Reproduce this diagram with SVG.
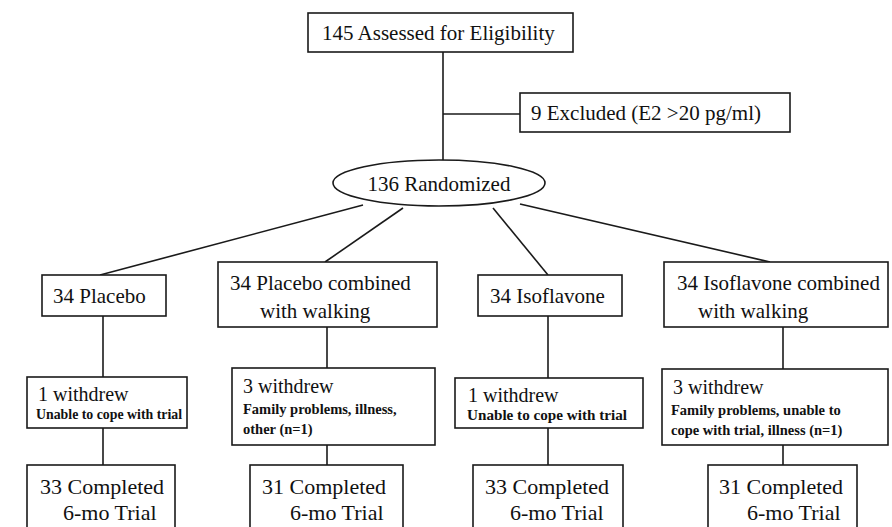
<svg xmlns="http://www.w3.org/2000/svg" width="892" height="527" viewBox="0 0 892 527">
<style>
.box{fill:#fff;stroke:#1a1a1a;stroke-width:1.6}
.ln{stroke:#1a1a1a;stroke-width:1.6;fill:none}
.t{font-family:"Liberation Serif","Times New Roman",serif;font-size:21px;fill:#111}
.w{font-family:"Liberation Serif","Times New Roman",serif;font-size:20px;fill:#111}
.c{font-family:"Liberation Serif","Times New Roman",serif;font-size:22px;fill:#111}
.s{font-family:"Liberation Serif","Times New Roman",serif;font-size:14.5px;font-weight:bold;fill:#111}
</style>
<rect width="892" height="527" fill="#fff"/>
<g id="connectors">
<line class="ln" x1="443" y1="52" x2="443" y2="161"/>
<line class="ln" x1="443" y1="114" x2="520" y2="114"/>
<line class="ln" x1="363" y1="205" x2="100" y2="275"/>
<line class="ln" x1="403" y1="208" x2="325" y2="262"/>
<line class="ln" x1="493" y1="208" x2="548" y2="275"/>
<line class="ln" x1="520" y1="204" x2="770" y2="262"/>
<line class="ln" x1="103" y1="316" x2="103" y2="377"/>
<line class="ln" x1="327" y1="327" x2="327" y2="368"/>
<line class="ln" x1="548" y1="316" x2="548" y2="378"/>
<line class="ln" x1="783" y1="327" x2="783" y2="369"/>
<line class="ln" x1="103" y1="428" x2="103" y2="465"/>
<line class="ln" x1="327" y1="445" x2="327" y2="465"/>
<line class="ln" x1="548" y1="428" x2="548" y2="465"/>
<line class="ln" x1="783" y1="445" x2="783" y2="465"/>
</g>
<g id="assessed">
<rect class="box" x="308" y="13" width="265" height="39"/>
<text class="t" x="322" y="40">145 Assessed for Eligibility</text>
</g>
<g id="excluded">
<rect class="box" x="520" y="93" width="270" height="39"/>
<text class="t" x="531" y="120">9 Excluded (E2 &gt;20 pg/ml)</text>
</g>
<g id="randomized">
<ellipse class="box" cx="439" cy="183" rx="106" ry="23"/>
<text class="t" x="439" y="191" text-anchor="middle">136 Randomized</text>
</g>
<g id="placebo">
<rect class="box" x="42" y="275" width="124" height="41"/>
<text class="t" x="53" y="303">34 Placebo</text>
</g>
<g id="placebo-walking">
<rect class="box" x="218" y="262" width="219" height="65"/>
<text class="t" x="230" y="290">34 Placebo combined</text>
<text class="t" x="260" y="318">with walking</text>
</g>
<g id="isoflavone">
<rect class="box" x="478" y="275" width="144" height="41"/>
<text class="t" x="490" y="303">34 Isoflavone</text>
</g>
<g id="isoflavone-walking">
<rect class="box" x="664" y="262" width="224" height="65"/>
<text class="t" x="677" y="290">34 Isoflavone combined</text>
<text class="t" x="698" y="318">with walking</text>
</g>
<g id="withdrew1">
<rect class="box" x="27" y="377" width="160" height="51"/>
<text class="w" x="38" y="401">1 withdrew</text>
<text class="s" x="36" y="419" textLength="146" lengthAdjust="spacingAndGlyphs">Unable to cope with trial</text>
</g>
<g id="withdrew2">
<rect class="box" x="232" y="368" width="203" height="77"/>
<text class="w" x="243" y="393">3 withdrew</text>
<text class="s" x="243" y="414">Family problems, illness,</text>
<text class="s" x="243" y="434">other (n=1)</text>
</g>
<g id="withdrew3">
<rect class="box" x="455" y="378" width="188" height="50"/>
<text class="w" x="468" y="402">1 withdrew</text>
<text class="s" x="467" y="420" textLength="160" lengthAdjust="spacingAndGlyphs">Unable to cope with trial</text>
</g>
<g id="withdrew4">
<rect class="box" x="662" y="369" width="226" height="76"/>
<text class="w" x="673" y="394">3 withdrew</text>
<text class="s" x="671" y="415">Family problems, unable to</text>
<text class="s" x="671" y="435">cope with trial, illness (n=1)</text>
</g>
<g id="completed1">
<rect class="box" x="27" y="465" width="148" height="70"/>
<text class="c" x="40" y="494">33 Completed</text>
<text class="c" x="63" y="520">6-mo Trial</text>
</g>
<g id="completed2">
<rect class="box" x="250" y="465" width="153" height="70"/>
<text class="c" x="262" y="494">31 Completed</text>
<text class="c" x="290" y="520">6-mo Trial</text>
</g>
<g id="completed3">
<rect class="box" x="473" y="465" width="150" height="70"/>
<text class="c" x="485" y="494">33 Completed</text>
<text class="c" x="510" y="520">6-mo Trial</text>
</g>
<g id="completed4">
<rect class="box" x="708" y="465" width="149" height="70"/>
<text class="c" x="719" y="494">31 Completed</text>
<text class="c" x="747" y="520">6-mo Trial</text>
</g>
</svg>
